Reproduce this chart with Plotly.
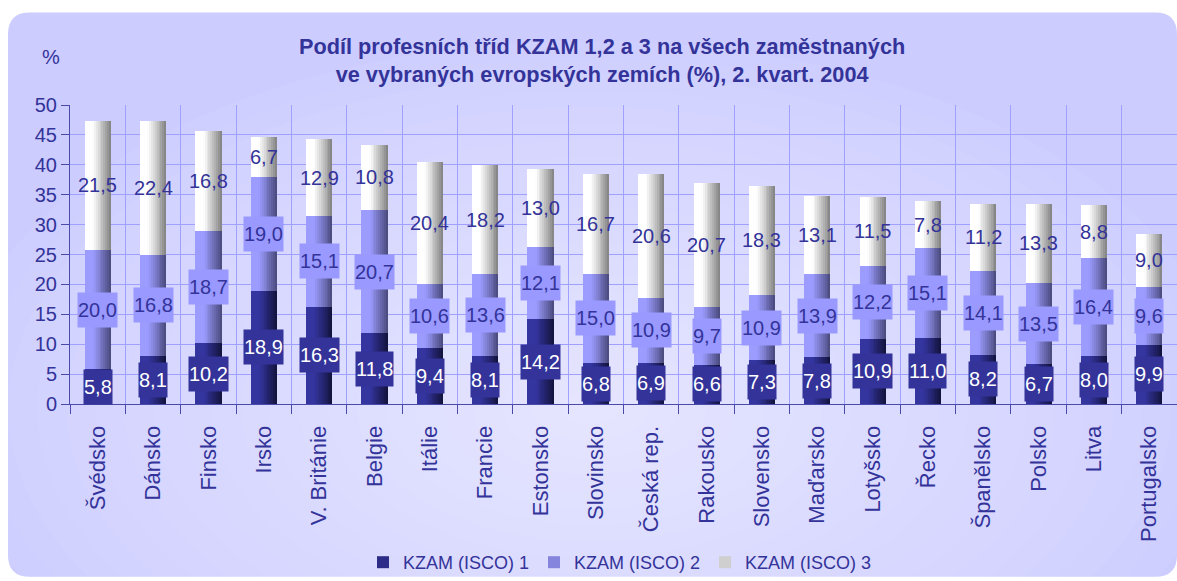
import plotly.graph_objects as go

countries = ["Švédsko", "Dánsko", "Finsko", "Irsko", "V. Británie", "Belgie", "Itálie",
             "Francie", "Estonsko", "Slovinsko", "Česká rep.", "Rakousko", "Slovensko",
             "Maďarsko", "Lotyšsko", "Řecko", "Španělsko", "Polsko", "Litva", "Portugalsko"]
kzam1 = [5.8, 8.1, 10.2, 18.9, 16.3, 11.8, 9.4, 8.1, 14.2, 6.8, 6.9, 6.6, 7.3, 7.8, 10.9, 11.0, 8.2, 6.7, 8.0, 9.9]
kzam2 = [20.0, 16.8, 18.7, 19.0, 15.1, 20.7, 10.6, 13.6, 12.1, 15.0, 10.9, 9.7, 10.9, 13.9, 12.2, 15.1, 14.1, 13.5, 16.4, 9.6]
kzam3 = [21.5, 22.4, 16.8, 6.7, 12.9, 10.8, 20.4, 18.2, 13.0, 16.7, 20.6, 20.7, 18.3, 13.1, 11.5, 7.8, 11.2, 13.3, 8.8, 9.0]
series_names = ["KZAM (ISCO) 1", "KZAM (ISCO) 2", "KZAM (ISCO) 3"]
title_lines = ["Podíl profesních tříd KZAM 1,2 a 3 na všech zaměstnaných",
               "ve vybraných evropských zemích (%), 2. kvart. 2004"]

FONT = "Liberation Sans, Arial, sans-serif"
NAVY = "#333399"

W, H = 1177, 581
L, R, T, B = 70, 1177, 105, 406
PW, PH = R - L, B - T


def px(x):
    return (x - L) / PW


def py(y):
    return (B - y) / PH


def hex2rgb(h):
    h = h.lstrip("#")
    return tuple(int(h[i:i + 2], 16) for i in (0, 2, 4))


def mix(c1, c2, t):
    a, b = hex2rgb(c1), hex2rgb(c2)
    return "rgb(%d,%d,%d)" % tuple(round(a[i] + (b[i] - a[i]) * t) for i in range(3))


grads = [("#3535a0", "#12123a"), ("#9c9cff", "#48487a"), ("#ffffff", "#808080")]
legend_cols = ["#2c2c88", "#8585dd", "#cfcfcf"]

xs = list(range(len(countries)))
vals = [kzam1, kzam2, kzam3]
bases = [[0] * len(xs), kzam1, [a + b for a, b in zip(kzam1, kzam2)]]

fig = go.Figure()

# legend entries
for s in range(3):
    fig.add_trace(go.Bar(x=[0], y=[0], base=[0], width=0.0001, name=series_names[s],
                         marker=dict(color=legend_cols[s], line=dict(width=0)),
                         showlegend=True, hoverinfo="skip"))

BW = 0.47
K = 14
for s in range(3):
    c0, c1 = grads[s]
    for k in range(K):
        t = (k + 0.5) / K
        tt = 0 if t < 0.3 else ((t - 0.3) / 0.7) ** 1.1
        fig.add_trace(go.Bar(
            x=xs, y=vals[s], base=bases[s],
            width=BW / K * 1.08, offset=-BW / 2 + k * BW / K,
            marker=dict(color=mix(c0, c1, tt), line=dict(width=0)),
            showlegend=False, hoverinfo="skip"))

annotations = []
for s in range(3):
    for i in xs:
        v = vals[s][i]
        txt = f"{v:.1f}".replace(".", ",")
        a = dict(x=i, y=bases[s][i] + v / 2, xref="x", yref="y", text=txt, showarrow=False,
                 font=dict(family=FONT, size=20, color="white" if s == 0 else NAVY),
                 borderpad=0, height=34)
        if s == 0:
            a["bgcolor"] = NAVY
        elif s == 1:
            a["bgcolor"] = "#9999ff"
        annotations.append(a)

annotations.append(dict(x=px(602), y=py(60), xref="paper", yref="paper",
                        text="<br>".join("<b>" + t + "</b>" for t in title_lines),
                        showarrow=False, yanchor="middle", xanchor="center",
                        font=dict(family=FONT, size=21.7, color=NAVY), align="center"))
annotations.append(dict(x=px(40), y=py(57), xref="paper", yref="paper", text="%", showarrow=False,
                        yanchor="middle", font=dict(family=FONT, size=20, color=NAVY)))

# background panel and radial glow
shapes = []
x0, y0, x1, y1, r = 8, 12, 1177, 580, 22
path = (f"M {px(x0 + r)},{py(y0)} L {px(x1 - r)},{py(y0)} Q {px(x1)},{py(y0)} {px(x1)},{py(y0 + r)} "
        f"L {px(x1)},{py(y1 - r)} Q {px(x1)},{py(y1)} {px(x1 - r)},{py(y1)} "
        f"L {px(x0 + r)},{py(y1)} Q {px(x0)},{py(y1)} {px(x0)},{py(y1 - r)} "
        f"L {px(x0)},{py(y0 + r)} Q {px(x0)},{py(y0)} {px(x0 + r)},{py(y0)} Z")
shapes.append(dict(type="path", path=path, xref="paper", yref="paper", fillcolor="#ccccff",
                   line=dict(width=0), layer="below"))
cx, cy = 590, 410
N = 22
for n in range(N):
    f = 1 - n / N
    rx, ry = 640 * f, 370 * f
    shapes.append(dict(type="circle", xref="paper", yref="paper",
                       x0=px(cx - rx), x1=px(cx + rx), y0=py(cy + ry), y1=py(cy - ry),
                       fillcolor="rgba(255,255,255,0.042)", line=dict(width=0), layer="below"))

fig.update_layout(
    width=W, height=H,
    margin=dict(l=L, r=W - R, t=T, b=H - B),
    paper_bgcolor="white", plot_bgcolor="rgba(0,0,0,0)",
    barmode="overlay", bargap=0,
    showlegend=True,
    legend=dict(orientation="h", x=px(620), xanchor="center", y=py(566), yanchor="middle",
                font=dict(family=FONT, size=18, color=NAVY), bgcolor="rgba(0,0,0,0)",
                itemwidth=30, traceorder="normal"),
    annotations=annotations, shapes=shapes,
    xaxis=dict(range=[-0.5, len(xs) - 0.5], tickmode="array", tickvals=xs, ticktext=countries,
               tickangle=-90, ticks="", showgrid=False, zeroline=False,
               showline=True, linecolor="#4a4aa8", linewidth=1, ticklabelstandoff=12,
               tickfont=dict(family=FONT, size=22, color=NAVY),
               minor=dict(tick0=-0.5, dtick=1, ticks="outside", ticklen=9, tickcolor="#4a4aa8",
                          showgrid=True, gridcolor="#a0a0ff", gridwidth=1)),
    yaxis=dict(range=[0, 50], dtick=5, ticks="outside", ticklen=8, tickcolor="#4a4aa8",
               showline=True, linecolor="#4a4aa8", linewidth=1, zeroline=False,
               showgrid=True, gridcolor="#a0a0ff", gridwidth=1,
               tickfont=dict(family=FONT, size=20, color=NAVY)),
)

fig.write_html("out.html", config={"displayModeBar": False},
               post_script="document.body.style.margin='0';document.body.style.overflow='hidden';")
